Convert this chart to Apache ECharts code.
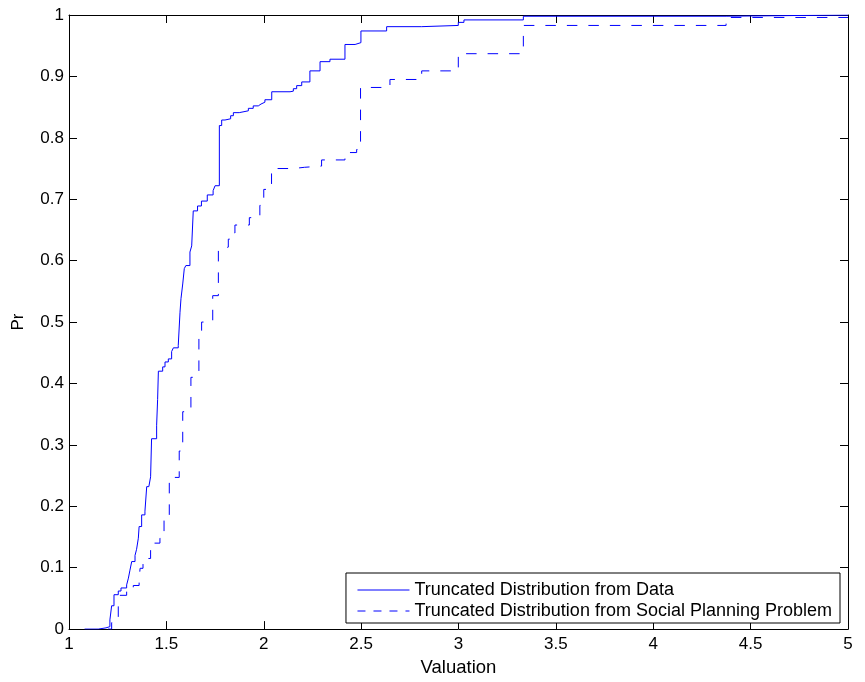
<!DOCTYPE html>
<html>
<head>
<meta charset="utf-8">
<script src="https://cdn.jsdelivr.net/npm/echarts@6/dist/echarts.min.js"></script>
<style>
  html, body { margin: 0; padding: 0; background: #fff; }
  #main { width: 865px; height: 682px; }
</style>
</head>
<body>
<div id="main"></div>
<script>
// empirical CDFs, each point = (valuation where the step happens, new probability)
const dataX = [1.08, 1.15, 1.19, 1.21, 1.219, 1.231, 1.253, 1.267, 1.296, 1.305, 1.313, 1.322, 1.339, 1.347,
  1.356, 1.36, 1.373, 1.39, 1.399, 1.41, 1.419, 1.424, 1.45, 1.455, 1.459, 1.481, 1.493, 1.51, 1.527,
  1.536, 1.561, 1.57, 1.575, 1.584, 1.592, 1.6, 1.621, 1.63, 1.638, 1.66, 1.68, 1.71, 1.74, 1.75,
  1.772, 1.784, 1.801, 1.83, 1.844, 1.874, 1.921, 1.946, 1.972, 1.986, 2.006, 2.041, 2.135, 2.152,
  2.169, 2.195, 2.237, 2.289, 2.34, 2.417, 2.469, 2.499, 2.631, 2.811, 2.999, 3.028, 3.333, 4.374, 5];
const dataY = [0, 0.002, 0.004, 0.015, 0.038, 0.056, 0.062, 0.067, 0.072, 0.083, 0.096, 0.11, 0.12, 0.13,
  0.148, 0.167, 0.186, 0.192, 0.232, 0.234, 0.248, 0.31, 0.332, 0.374, 0.42, 0.427, 0.435, 0.44, 0.452,
  0.458, 0.462, 0.516, 0.538, 0.562, 0.587, 0.592, 0.614, 0.624, 0.681, 0.689, 0.697, 0.707, 0.714, 0.722,
  0.82, 0.829, 0.831, 0.836, 0.841, 0.844, 0.848, 0.852, 0.855, 0.858, 0.862, 0.875, 0.876, 0.88,
  0.885, 0.891, 0.909, 0.924, 0.928, 0.952, 0.955, 0.974, 0.981, 0.983, 0.988, 0.992, 0.998, 1, 1];

const planX = [1.2, 1.219, 1.225, 1.253, 1.262, 1.296, 1.33, 1.36, 1.365, 1.38, 1.395, 1.419, 1.467, 1.488,
  1.515, 1.566, 1.584, 1.605, 1.626, 1.64, 1.667, 1.681, 1.738, 1.767, 1.78, 1.818, 1.84, 1.852, 1.926,
  1.98, 2.0, 2.04, 2.152, 2.21, 2.297, 2.417, 2.477, 2.497, 2.648, 2.811, 2.999, 3.333, 4.374, 5];
const planY = [0, 0.01, 0.018, 0.037, 0.055, 0.061, 0.071, 0.08, 0.099, 0.109, 0.115, 0.14, 0.148, 0.183,
  0.247, 0.29, 0.354, 0.359, 0.41, 0.413, 0.486, 0.5, 0.543, 0.619, 0.622, 0.635, 0.645, 0.658, 0.67,
  0.69, 0.716, 0.75, 0.752, 0.754, 0.764, 0.776, 0.781, 0.882, 0.895, 0.909, 0.937, 0.983, 0.996, 0.996];

const seriesNames = ["Truncated Distribution from Data", "Truncated Distribution from Social Planning Problem"];

const font = "Liberation Sans, Arial, Helvetica, sans-serif";
const pairs = (xs, ys) => xs.map((x, i) => [x, ys[i]]);

const boxAxis = {
  axisLine: { show: true, onZero: false, lineStyle: { color: "#000", width: 1 } },
  axisTick: { show: true, inside: true, length: 8, lineStyle: { color: "#000" } },
  splitLine: { show: false }
};

let myChart = echarts.init(document.getElementById("main"), null, { renderer: "canvas" });
myChart.setOption({
  animation: false,
  backgroundColor: "#fff",
  textStyle: { fontFamily: font },
  grid: { left: 69, right: 17, top: 15, bottom: 50 },
  legend: {
    orient: "vertical",
    right: 25,
    bottom: 59,
    backgroundColor: "#fff",
    borderColor: "#000",
    borderWidth: 1,
    borderRadius: 0,
    padding: [8, 8, 3, 11],
    itemGap: 3,
    itemWidth: 52,
    itemHeight: 14,
    itemStyle: { opacity: 0 },
    lineStyle: { width: 1 },
    textStyle: { fontFamily: font, fontSize: 18, color: "#000" },
    data: [
      { name: seriesNames[0] },
      { name: seriesNames[1], lineStyle: { width: 1, type: [8, 8] } }
    ]
  },
  xAxis: [
    Object.assign({
      type: "value", min: 1, max: 5, interval: 0.5, position: "bottom",
      name: "Valuation", nameLocation: "middle", nameGap: 27,
      nameTextStyle: { fontFamily: font, fontSize: 18.5, color: "#000" },
      axisLabel: { fontFamily: font, fontSize: 17, color: "#000", margin: 7 }
    }, boxAxis),
    Object.assign({
      type: "value", min: 1, max: 5, interval: 0.5, position: "top",
      axisLabel: { show: false }
    }, boxAxis)
  ],
  yAxis: [
    Object.assign({
      type: "value", min: 0, max: 1, interval: 0.1, position: "left",
      name: "Pr", nameLocation: "middle", nameGap: 42,
      nameTextStyle: { fontFamily: font, fontSize: 17, color: "#000" },
      axisLabel: { fontFamily: font, fontSize: 17, color: "#000", margin: 5 }
    }, boxAxis),
    Object.assign({
      type: "value", min: 0, max: 1, interval: 0.1, position: "right",
      axisLabel: { show: false }
    }, boxAxis)
  ],
  series: [
    {
      name: seriesNames[0],
      type: "line",
      step: "end",
      symbol: "none",
      lineStyle: { color: "#0000ff", width: 1 },
      itemStyle: { color: "#0000ff" },
      data: pairs(dataX, dataY)
    },
    {
      name: seriesNames[1],
      type: "line",
      step: "end",
      symbol: "none",
      lineStyle: { color: "#0000ff", width: 1, type: [10.5, 11] },
      itemStyle: { color: "#0000ff" },
      data: pairs(planX, planY)
    }
  ]
});
</script>
</body>
</html>
